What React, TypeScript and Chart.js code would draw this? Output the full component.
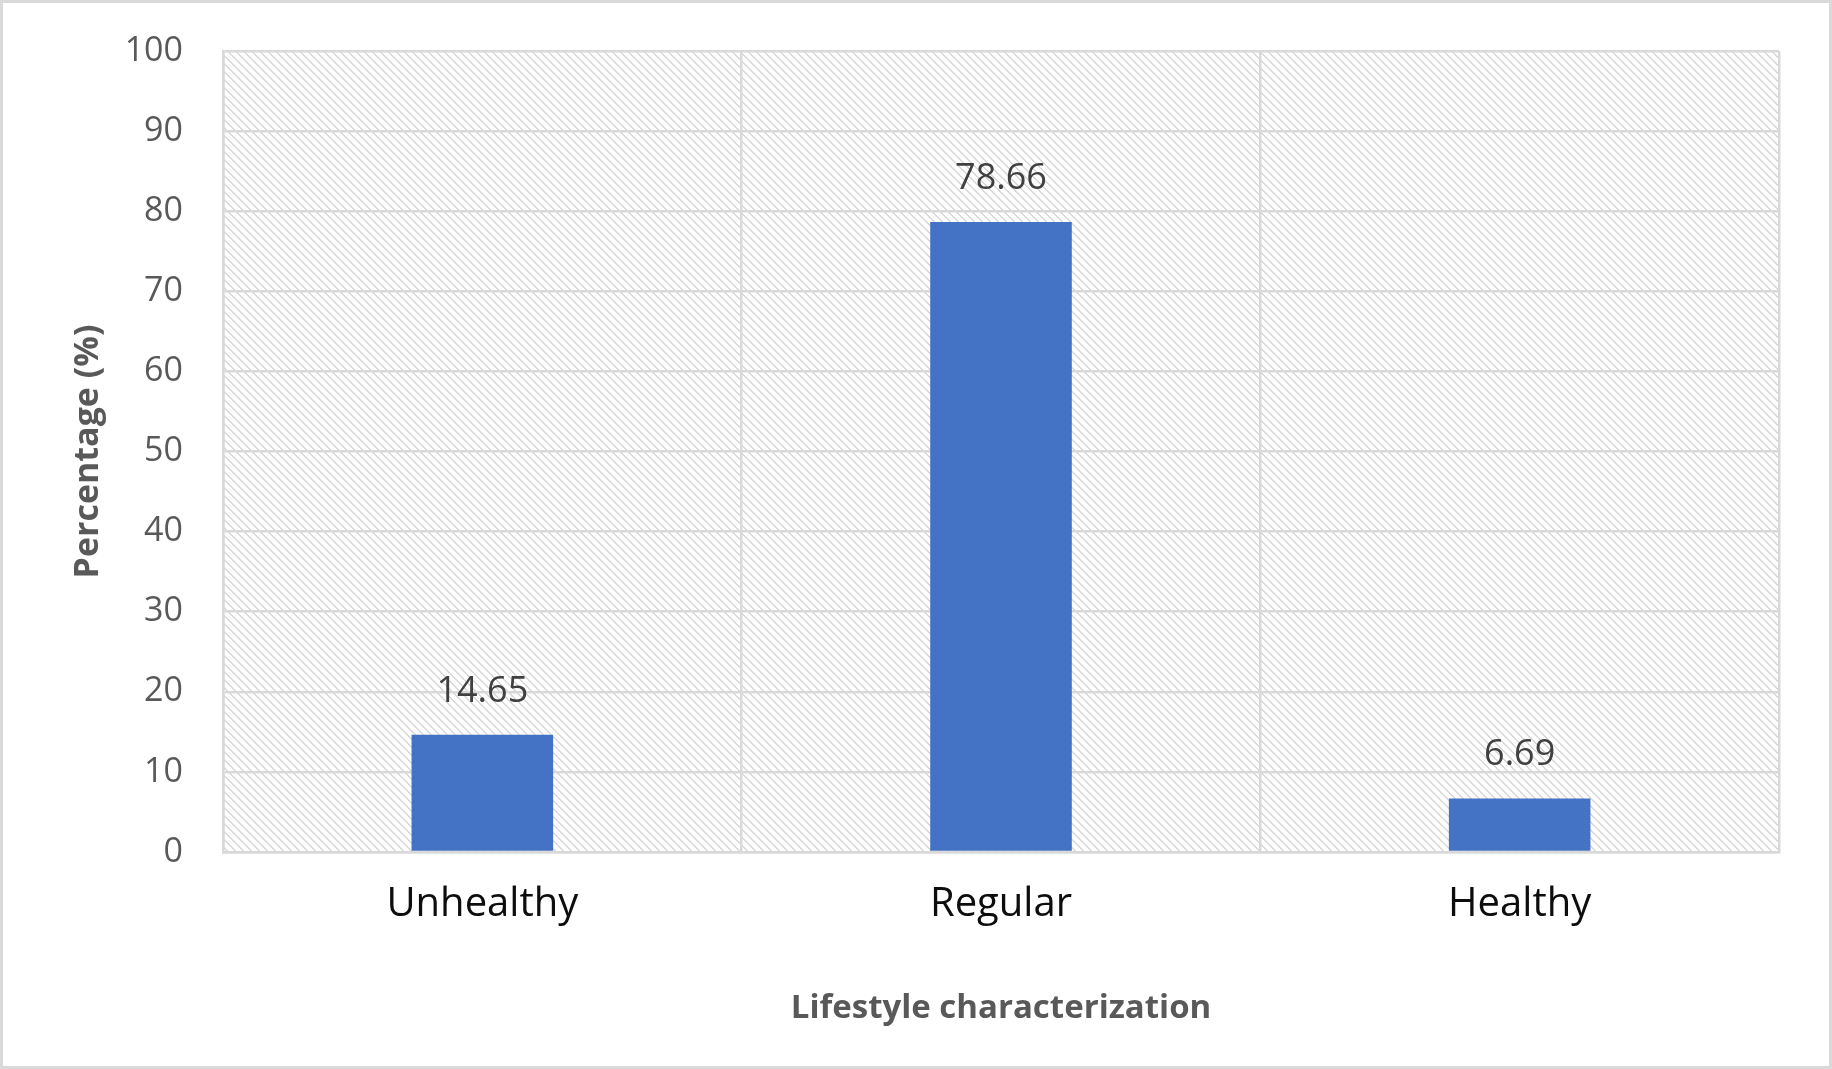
import { useEffect, useRef } from "react";
import { Chart, registerables, type Plugin } from "chart.js";

Chart.register(...registerables);

const CATEGORIES = ["Unhealthy", "Regular", "Healthy"];
const PERCENTAGES = [14.65, 78.66, 6.69];
const Y_MIN = 0;
const Y_MAX = 100;
const Y_STEP = 10;

const FONT = "'Open Sans', 'Noto Sans', sans-serif";
const GRID = "#d9d9d9";

function makeHatch(): CanvasPattern | string {
  const tile = document.createElement("canvas");
  tile.width = 8;
  tile.height = 8;
  const t = tile.getContext("2d");
  if (!t) return "#fff";
  t.fillStyle = "#ffffff";
  t.fillRect(0, 0, 8, 8);
  t.fillStyle = GRID;
  for (let i = 0; i < 8; i++) {
    t.fillRect(i, i, 2, 1);
    if (i === 7) t.fillRect(0, 7, 1, 1);
  }
  const p = t.createPattern(tile, "repeat");
  return p ?? "#fff";
}

const background: Plugin<"bar"> = {
  id: "background",
  beforeDraw(chart) {
    const { ctx, chartArea: a, width, height } = chart;
    ctx.save();
    ctx.fillStyle = "#ffffff";
    ctx.fillRect(0, 0, width, height);
    ctx.fillStyle = makeHatch();
    ctx.fillRect(a.left, a.top, a.right - a.left, a.bottom - a.top);
    ctx.restore();
  },
  afterDraw(chart) {
    const { ctx, width, height } = chart;
    ctx.save();
    ctx.strokeStyle = GRID;
    ctx.lineWidth = 3;
    ctx.strokeRect(1.5, 1.5, width - 3, height - 3);
    ctx.restore();
  },
};

const valueLabels: Plugin<"bar"> = {
  id: "valueLabels",
  afterDatasetsDraw(chart) {
    const { ctx } = chart;
    const meta = chart.getDatasetMeta(0);
    ctx.save();
    ctx.fillStyle = "#404040";
    ctx.font = `36px ${FONT}`;
    ctx.textAlign = "center";
    ctx.textBaseline = "alphabetic";
    meta.data.forEach((bar, i) => {
      ctx.fillText(PERCENTAGES[i].toFixed(2), bar.x, bar.y - 33);
    });
    ctx.restore();
  },
};

export default function App() {
  const canvasRef = useRef<HTMLCanvasElement>(null);
  const chartRef = useRef<Chart<"bar"> | null>(null);

  useEffect(() => {
    document.body.style.margin = "0";
    if (!canvasRef.current) return;
    chartRef.current = new Chart(canvasRef.current, {
      type: "bar",
      data: {
        labels: CATEGORIES,
        datasets: [
          {
            data: PERCENTAGES,
            backgroundColor: "#4472c4",
            barPercentage: 0.273,
            categoryPercentage: 1,
          },
        ],
      },
      options: {
        animation: false,
        responsive: false,
        devicePixelRatio: 1,
        layout: { padding: { left: 0, top: 51, right: 53, bottom: 0 } },
        plugins: {
          legend: { display: false },
          tooltip: { enabled: false },
        },
        scales: {
          x: {
            afterFit: (s) => {
              s.height = 217;
              s.paddingLeft = 0;
              s.paddingRight = 0;
            },
            grid: { color: GRID, lineWidth: 2.5, drawTicks: false, offset: true },
            border: { color: GRID, width: 2.5 },
            ticks: {
              color: "#0d0d0d",
              font: { family: FONT, size: 40 },
              padding: 29,
            },
            title: {
              display: true,
              text: "Lifestyle characterization",
              color: "#595959",
              font: { family: FONT, size: 33, weight: "bold", lineHeight: 1.2 },
              padding: { top: 0, bottom: 41 },
            },
          },
          y: {
            min: Y_MIN,
            max: Y_MAX,
            afterFit: (s) => {
              s.width = 223;
              s.paddingTop = 0;
              s.paddingBottom = 0;
            },
            grid: { color: GRID, lineWidth: 2.5, drawTicks: false },
            border: { color: GRID, width: 2.5 },
            ticks: {
              stepSize: Y_STEP,
              color: "#595959",
              font: { family: FONT, size: 34 },
              padding: 40,
            },
            title: {
              display: true,
              text: "Percentage (%)",
              color: "#595959",
              font: { family: FONT, size: 34, weight: "bold", lineHeight: 1.2 },
              padding: { top: 68, bottom: 0 },
            },
          },
        },
      },
      plugins: [background, valueLabels],
    });
    return () => {
      chartRef.current?.destroy();
      chartRef.current = null;
    };
  }, []);

  return (
    <div style={{ position: "absolute", left: 0, top: 0, width: 1832, height: 1069 }}>
      <canvas ref={canvasRef} width={1832} height={1069} />
    </div>
  );
}
